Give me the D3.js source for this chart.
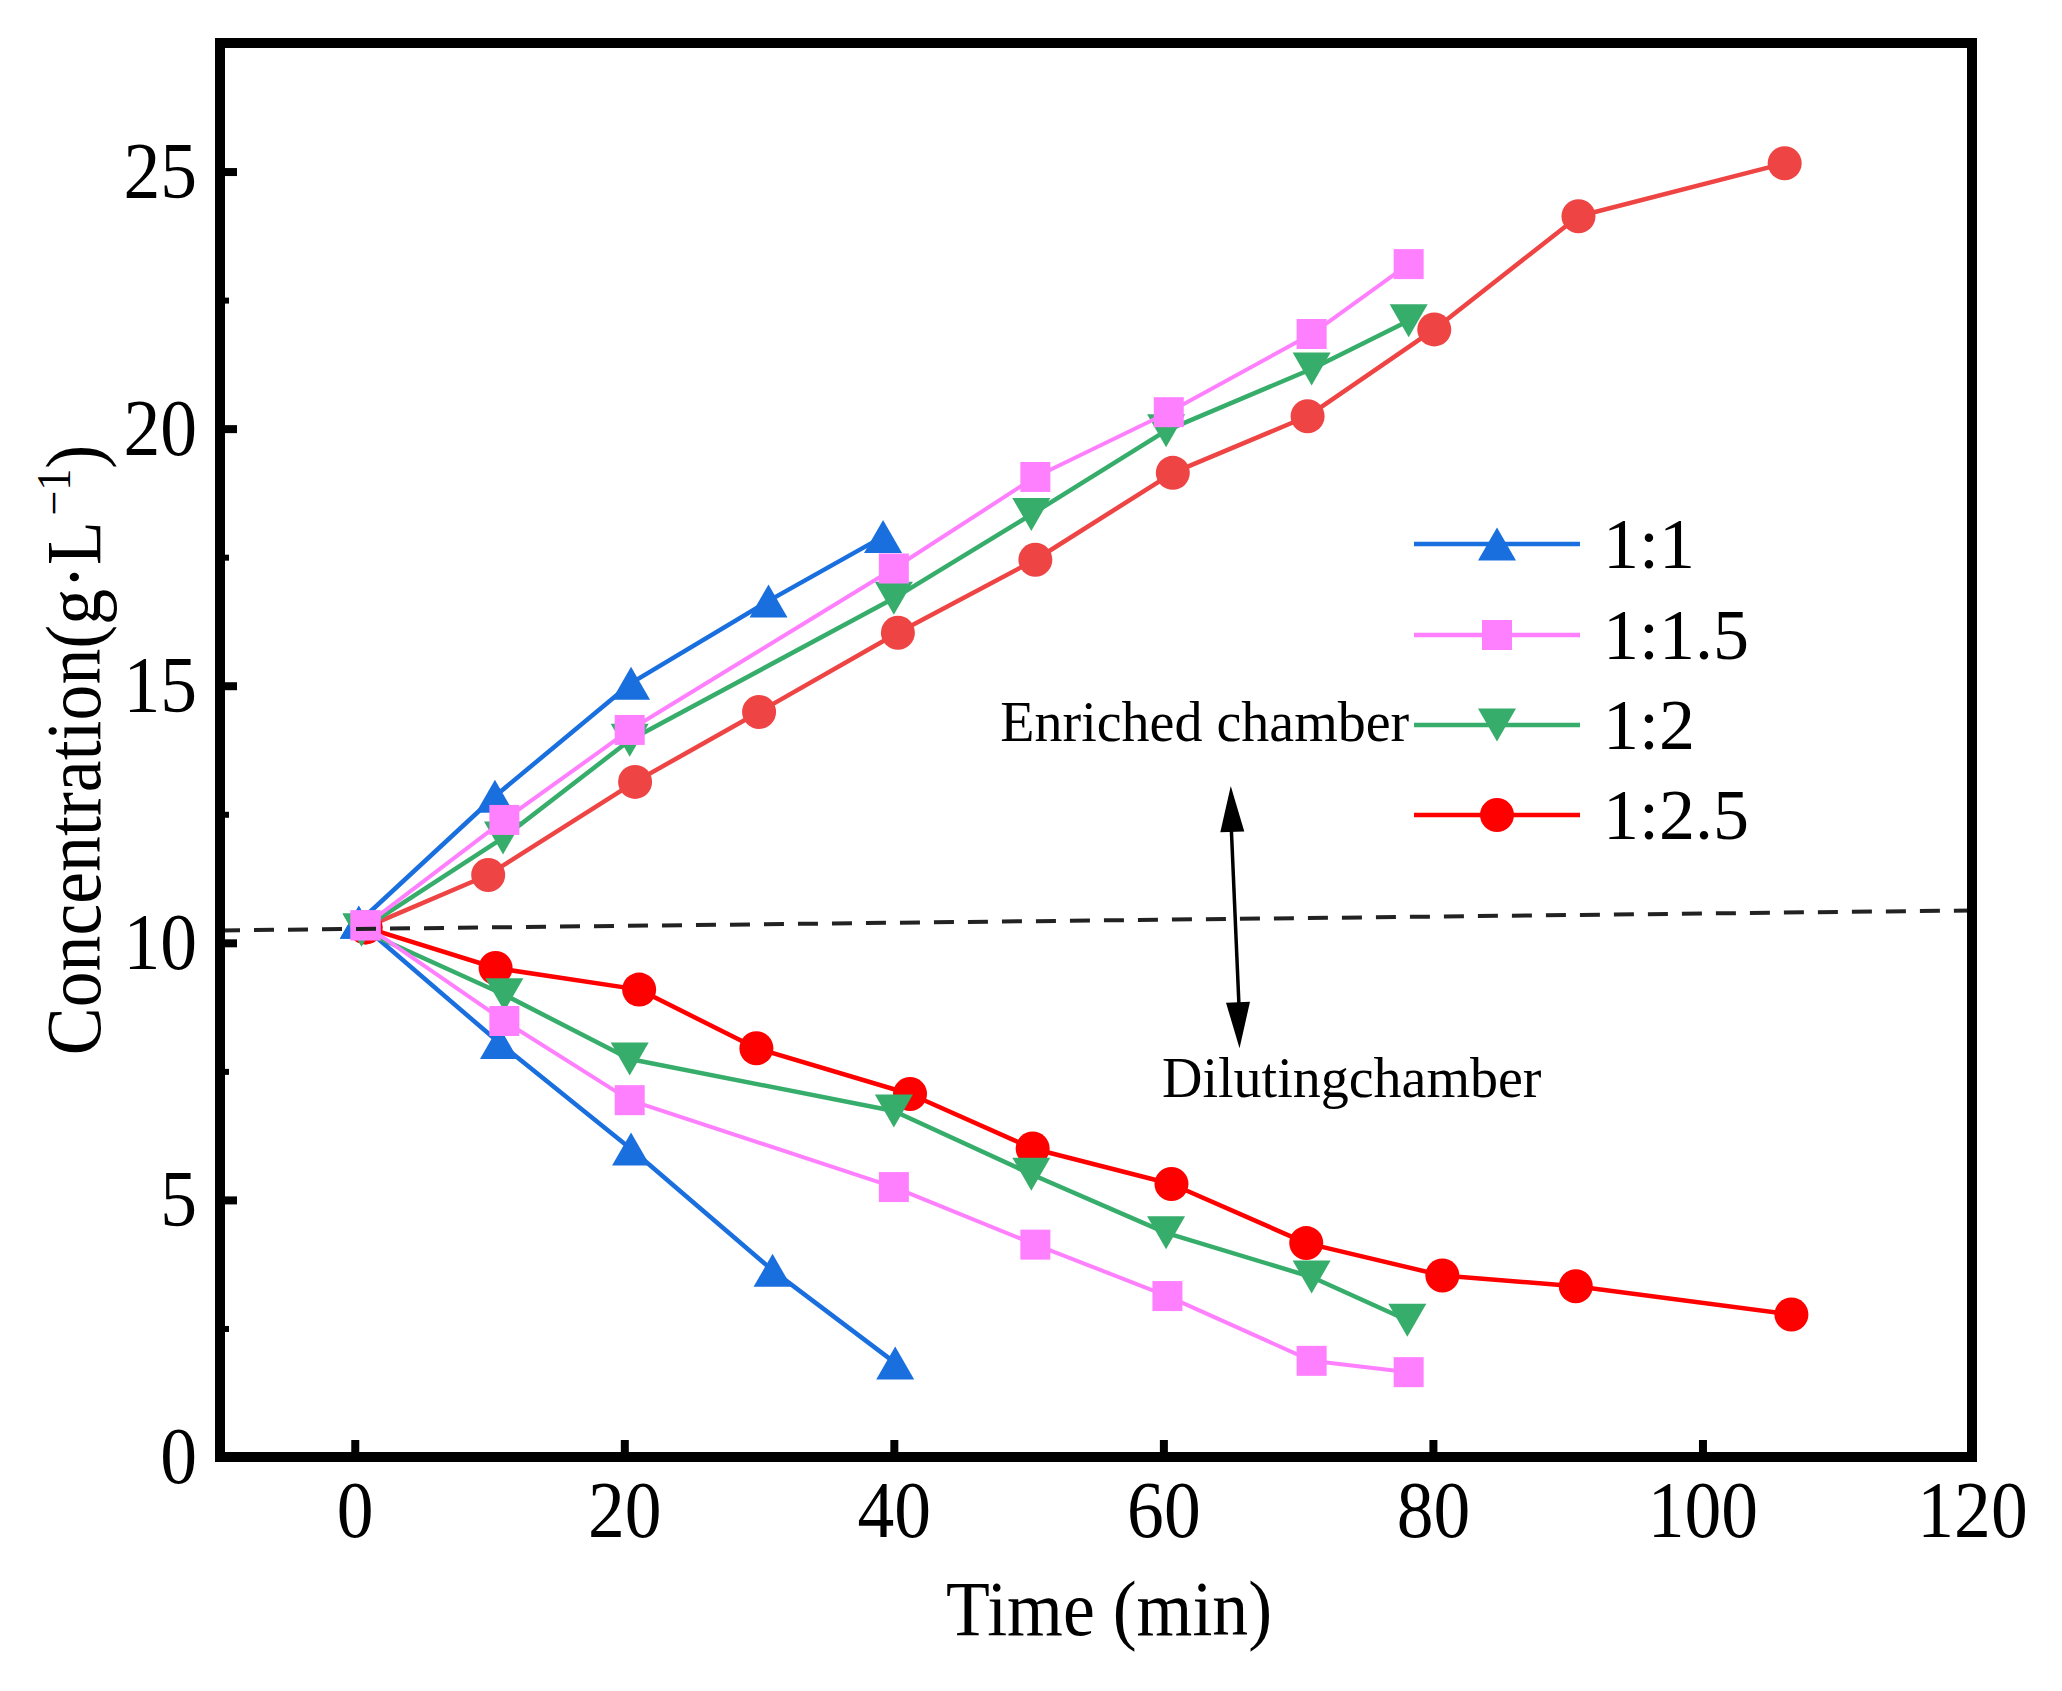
<!DOCTYPE html>
<html>
<head>
<meta charset="utf-8">
<script src="https://cdn.jsdelivr.net/npm/d3@7"></script>
<style>
  body { margin: 0; background: #fff; }
  text { font-family: "Liberation Serif", "Times New Roman", serif; fill: #000; }
</style>
</head>
<body>
<svg></svg>
<script>
// Ratio labels (legend order)
let ratios = ["1:1", "1:1.5", "1:2", "1:2.5"];

// 1:1 — enriched (up) and diluting (down) chambers
let t11Up = [0.3, 10.4, 20.5, 30.7, 39.2];
let c11Up = [10.4, 12.85, 15.05, 16.65, 17.9];
let t11Down = [0.3, 10.7, 20.5, 31.0, 40.1];
let c11Down = [10.4, 8.06, 5.99, 3.63, 1.83];

// 1:1.5
let t115Up = [0.8, 11.1, 20.4, 40.0, 50.5, 60.4, 71.0, 78.2];
let c115Up = [10.34, 12.39, 14.14, 17.28, 19.06, 20.32, 21.84, 23.2];
let t115Down = [0.8, 11.1, 20.4, 40.0, 50.5, 60.3, 71.0, 78.2];
let c115Down = [10.34, 8.48, 6.94, 5.25, 4.13, 3.13, 1.87, 1.65];

// 1:2
let t12Up = [0.5, 11.0, 20.4, 40.0, 50.2, 60.2, 71.0, 78.2];
let c12Up = [10.25, 12.04, 13.94, 16.7, 18.33, 19.96, 21.16, 22.1];
let t12Down = [0.5, 11.1, 20.4, 40.0, 50.2, 60.2, 71.0, 78.1];
let c12Down = [10.25, 8.99, 7.74, 6.73, 5.5, 4.36, 3.5, 2.66];

// 1:2.5
let t125Up = [0.8, 9.9, 20.8, 30.0, 40.3, 50.5, 60.7, 70.7, 80.1, 90.8, 106.1];
let c125Up = [10.3, 11.32, 13.13, 14.49, 16.03, 17.45, 19.14, 20.24, 21.93, 24.13, 25.16];
let t125Down = [0.8, 10.45, 21.1, 29.8, 41.2, 50.3, 60.6, 70.6, 80.7, 90.6, 106.6];
let c125Down = [10.3, 9.51, 9.09, 7.95, 7.06, 6.0, 5.31, 4.16, 3.53, 3.32, 2.77];

// Axis ticks
let xTicks = [0, 20, 40, 60, 80, 100, 120];
let yTicks = [0, 5, 10, 15, 20, 25];
let yMinorTicks = [2.5, 7.5, 12.5, 17.5, 22.5];

// Initial-concentration reference line (time, concentration)
let refT = [-10, 120];
let refC = [10.24, 10.63];

// Chamber annotations (time, concentration)
let arrowT = [65.0, 65.65];
let arrowC = [13.05, 7.95];
let labelTexts = ["Enriched chamber", "Dilutingchamber"];
let labelT = [47.9, 59.9];
let labelC = [13.92, 7.0];

const zip = (a, b) => a.map((v, i) => [v, b[i]]);

// Series table, in drawing order (last on top)
let series = [
  { name: ratios[3], color: "#ff0000", upColor: "#ef4444", shape: "circle", up: zip(t125Up, c125Up), down: zip(t125Down, c125Down), width: 4.5 },
  { name: ratios[0], color: "#1a6fdf", upColor: "#1a6fdf", shape: "up", up: zip(t11Up, c11Up), down: zip(t11Down, c11Down), width: 4.5 },
  { name: ratios[2], color: "#37ad6b", upColor: "#37ad6b", shape: "down", up: zip(t12Up, c12Up), down: zip(t12Down, c12Down), width: 4.5 },
  { name: ratios[1], color: "#ff80ff", upColor: "#ff80ff", shape: "square", up: zip(t115Up, c115Up), down: zip(t115Down, c115Down), width: 4 }
];

const W = 2062, H = 1691;
const plotLeft = 220, plotRight = 1972, plotTop = 43, plotBottom = 1457;
const squeeze = 0.92;

let svg = d3.select("svg").attr("width", W).attr("height", H);

let x = d3.scaleLinear().domain([-10, 120]).range([plotLeft, plotRight]);
let y = d3.scaleLinear().domain([0, 27.5]).range([plotBottom, plotTop]);

// marker path for each shape
function symbolPath(shape) {
  if (shape == "up") return "M0,-16.5 L19,16.5 L-19,16.5 Z";
  if (shape == "down") return "M0,16.5 L19,-16.5 L-19,-16.5 Z";
  if (shape == "square") return "M-15,-15 H15 V15 H-15 Z";
  return d3.arc()({ innerRadius: 0, outerRadius: 17, startAngle: 0, endAngle: 2 * Math.PI });
}

let line = d3.line().x(d => x(d[0])).y(d => y(d[1]));

let plot = svg.append("g");

series.forEach(s => {
  let g = plot.append("g");
  [["up", s.upColor], ["down", s.color]].forEach(([key, col]) => {
    g.append("path")
      .attr("d", line(s[key]))
      .attr("fill", "none")
      .attr("stroke", col)
      .attr("stroke-width", s.width)
      .attr("stroke-linejoin", "round");
    g.selectAll(null)
      .data(s[key])
      .join("path")
      .attr("d", symbolPath(s.shape))
      .attr("transform", d => "translate(" + x(d[0]) + "," + y(d[1]) + ")")
      .attr("fill", col);
  });
});

// dashed reference line
svg.append("path")
  .attr("d", line(zip(refT, refC)))
  .attr("stroke", "#222")
  .attr("stroke-width", 4)
  .attr("stroke-dasharray", "20,14")
  .attr("fill", "none");

// double-headed arrow
let a1 = [x(arrowT[0]), y(arrowC[0])], a2 = [x(arrowT[1]), y(arrowC[1])];
function arrowHead(tip, from) {
  let dx = tip[0] - from[0], dy = tip[1] - from[1];
  let len = Math.hypot(dx, dy), ux = dx / len, uy = dy / len;
  let bx = tip[0] - ux * 46, by = tip[1] - uy * 46;
  return "M" + tip[0] + "," + tip[1] +
    " L" + (bx - uy * 12) + "," + (by + ux * 12) +
    " L" + (bx + uy * 12) + "," + (by - ux * 12) + " Z";
}
svg.append("line")
  .attr("x1", a1[0]).attr("y1", a1[1] + 30)
  .attr("x2", a2[0]).attr("y2", a2[1] - 30)
  .attr("stroke", "#000").attr("stroke-width", 3.5);
svg.append("path").attr("d", arrowHead(a1, a2)).attr("fill", "#000");
svg.append("path").attr("d", arrowHead(a2, a1)).attr("fill", "#000");

svg.selectAll(".note")
  .data(labelTexts)
  .join("text")
  .attr("class", "note")
  .attr("x", (d, i) => x(labelT[i]))
  .attr("y", (d, i) => y(labelC[i]))
  .attr("font-size", 56)
  .text(d => d);

// axes
let xAxis = svg.append("g")
  .attr("transform", "translate(0," + plotBottom + ")")
  .call(d3.axisBottom(x).tickValues(xTicks).tickSizeInner(-17).tickSizeOuter(0).tickPadding(23));
let yAxis = svg.append("g")
  .attr("transform", "translate(" + plotLeft + ",0)")
  .call(d3.axisLeft(y).tickValues(yTicks).tickSizeInner(-17).tickSizeOuter(0).tickPadding(23));
let yMinor = svg.append("g")
  .attr("transform", "translate(" + plotLeft + ",0)")
  .call(d3.axisLeft(y).tickValues(yMinorTicks).tickSizeInner(-9).tickSizeOuter(0).tickFormat(""));

[xAxis, yAxis, yMinor].forEach(ax => {
  ax.select(".domain").remove();
  ax.selectAll(".tick line").attr("stroke", "#000").attr("stroke-width", 8);
  ax.selectAll("text")
    .attr("font-size", 80)
    .attr("font-family", "Liberation Serif, Times New Roman, serif")
    .attr("fill", "#000");
});
yMinor.selectAll(".tick line").attr("stroke-width", 6);
xAxis.selectAll("text").attr("transform", "scale(" + squeeze + ",1)");
yAxis.selectAll("text")
  .attr("x", 0)
  .attr("transform", "translate(-23,0) scale(" + squeeze + ",1)");

// frame
svg.append("rect")
  .attr("x", plotLeft).attr("y", plotTop)
  .attr("width", plotRight - plotLeft).attr("height", plotBottom - plotTop)
  .attr("fill", "none").attr("stroke", "#000").attr("stroke-width", 10);

// axis titles
svg.append("text")
  .attr("transform", "translate(1109,1635) scale(" + squeeze + ",1)")
  .attr("text-anchor", "middle")
  .attr("font-size", 78)
  .text("Time (min)");

let yTitle = svg.append("text")
  .attr("transform", "translate(100,750) rotate(-90) scale(" + squeeze + ",1)")
  .attr("text-anchor", "middle")
  .attr("font-size", 78);
yTitle.append("tspan").text("Concentration(g\u00b7L");
yTitle.append("tspan").attr("font-size", 48).attr("dy", -30).attr("dx", 6).text("\u22121");
yTitle.append("tspan").attr("dy", 30).text(")");

// legend
let legendOrder = [1, 3, 2, 0];
let legend = svg.append("g").selectAll("g")
  .data(legendOrder.map(i => series[i]))
  .join("g")
  .attr("transform", (d, i) => "translate(1414," + [544, 635, 725, 815][i] + ")");
legend.append("line")
  .attr("x1", 0).attr("x2", 166)
  .attr("stroke", d => d.color)
  .attr("stroke-width", 4.5);
legend.append("path")
  .attr("d", d => symbolPath(d.shape))
  .attr("transform", "translate(83,0)")
  .attr("fill", d => d.color);
legend.append("text")
  .attr("x", 189)
  .attr("dy", "0.33em")
  .attr("font-size", 72)
  .text(d => d.name);
</script>
</body>
</html>
